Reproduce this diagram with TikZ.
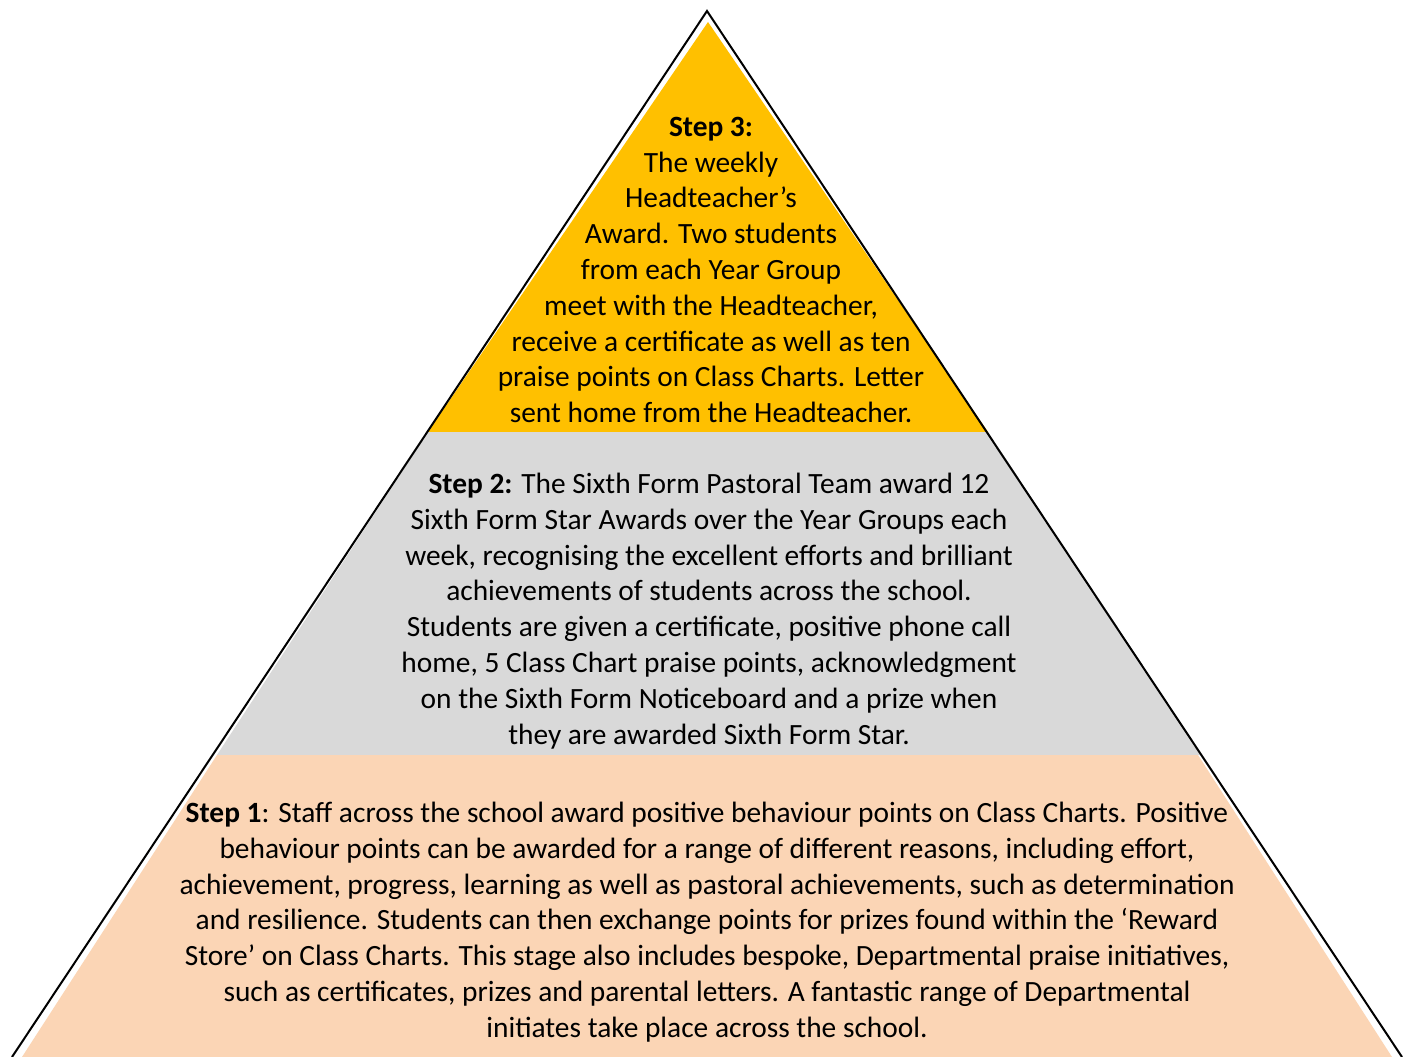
\documentclass[tikz,border=0pt]{standalone}
\usepackage{fontspec}
\setmainfont{Carlito}
\definecolor{gold}{HTML}{FFC000}
\definecolor{lgray}{HTML}{D9D9D9}
\definecolor{peach}{HTML}{FBD5B5}
\begin{document}
\begin{tikzpicture}[x=1pt,y=-1pt,
  txt/.style={align=center,font=\fontsize{29.4}{35.8}\selectfont,inner sep=0pt}]
\useasboundingbox (0,0) rectangle (1414,1057);
\fill[white] (0,0) rectangle (1414,1057);
% layers
\fill[gold] (708,22) -- (988,432) -- (428,432) -- cycle;
\fill[lgray] (428,432) -- (988,432) -- (1202,755) -- (217,755) -- cycle;
\node[txt] (s3) at (711,270) {\textbf{Step 3:}\\The weekly\\Headteacher’s\\Award. Two students\\from each Year Group\\meet with the Headteacher,\\receive a certificate as well as ten\\praise points on Class Charts. Letter\\sent home from the Headteacher.};
\node[txt] (s2) at (709,611) {\textbf{Step 2:} The Sixth Form Pastoral Team award 12\\Sixth Form Star Awards over the Year Groups each\\week, recognising the excellent efforts and brilliant\\achievements of students across the school.\\Students are given a certificate, positive phone call\\home, 5 Class Chart praise points, acknowledgment\\on the Sixth Form Noticeboard and a prize when\\they are awarded Sixth Form Star.};
\fill[peach] (217,755) -- (1198,755) -- (1392,1057) -- (22,1057) -- cycle;
\node[txt] (s1) at (707,922) {\textbf{Step 1}: Staff across the school award positive behaviour points on Class Charts. Positive\\behaviour points can be awarded for a range of different reasons, including effort,\\achievement, progress, learning as well as pastoral achievements, such as determination\\and resilience. Students can then exchange points for prizes found within the ‘Reward\\Store’ on Class Charts. This stage also includes bespoke, Departmental praise initiatives,\\such as certificates, prizes and parental letters. A fantastic range of Departmental\\initiates take place across the school.};
% outline
\coordinate (apex) at (707,11);
\coordinate (bl) at (12,1057);
\coordinate (br) at (1402,1057);
\draw[line width=2pt] (bl) -- (apex) -- (br);
\end{tikzpicture}
\end{document}
